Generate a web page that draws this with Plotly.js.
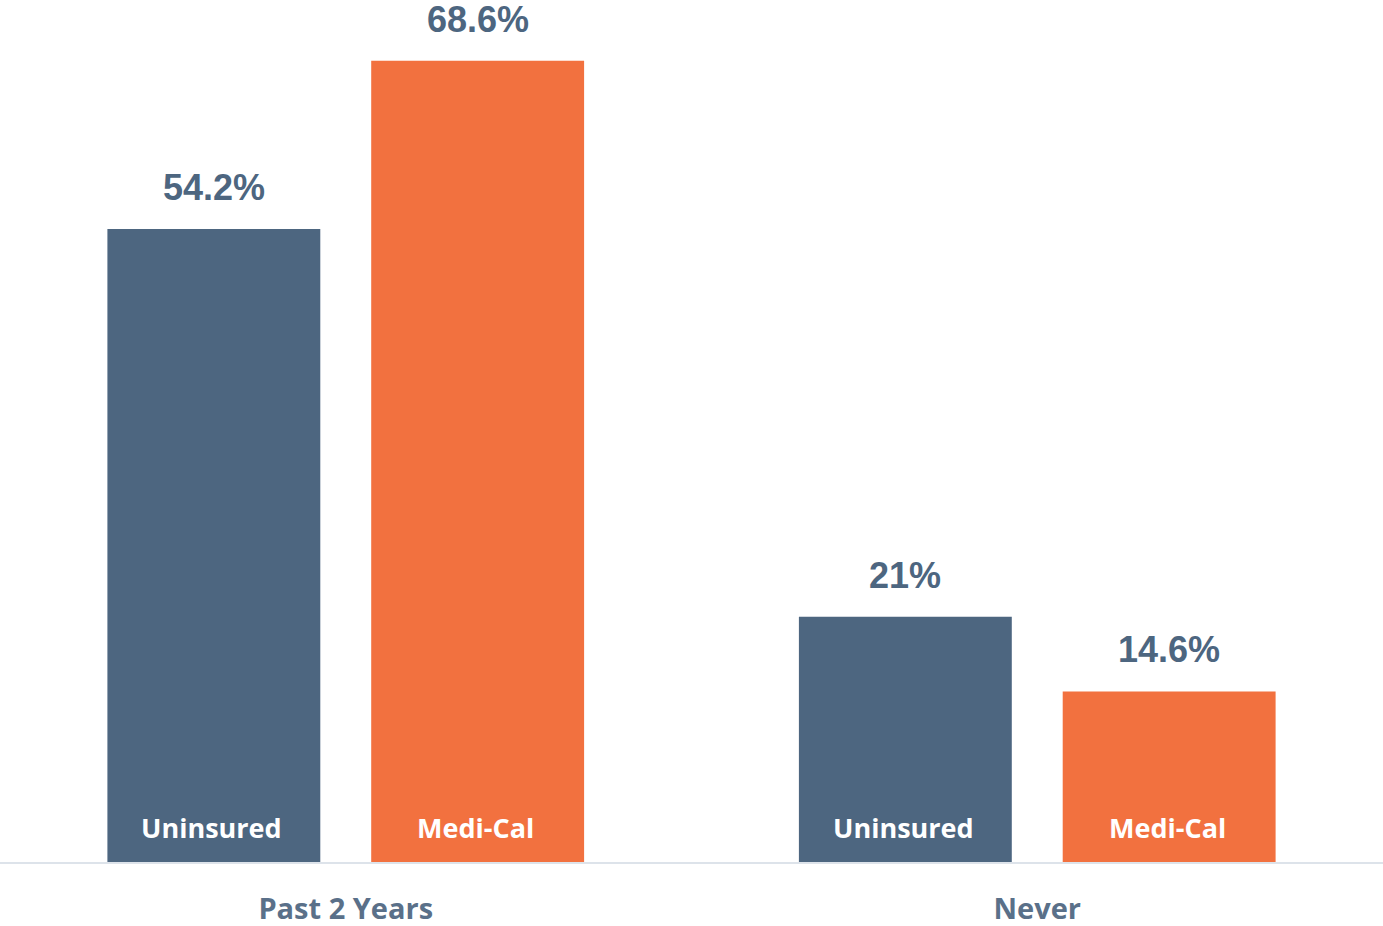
<!DOCTYPE html>
<html>
<head>
<meta charset="utf-8">
<script src="https://cdn.plot.ly/plotly-3.0.1.min.js"></script>
<style>
html,body{margin:0;padding:0;background:#fff;}
#chart{width:1383px;height:926px;}
</style>
</head>
<body>
<div id="chart"></div>
<script>
const categories = ["Past 2 Years", "Never"];
const seriesNames = ["Uninsured", "Medi-Cal"];
const uninsuredValues = [54.2, 21];
const mediCalValues = [68.6, 14.6];
const valueLabels = [["54.2%", "21%"], ["68.6%", "14.6%"]];
const colors = ["#4d6680", "#f2713f"];

const allValues = [uninsuredValues, mediCalValues];

const traces = allValues.map((vals, i) => ({
  type: "bar",
  name: seriesNames[i],
  x: categories,
  y: vals,
  offsetgroup: String(i),
  marker: {color: colors[i], line: {width: 0}},
  hoverinfo: "skip"
}));

const shifts = [-132, 132];
const annotations = [];
allValues.forEach((vals, i) => {
  vals.forEach((v, j) => {
    annotations.push({
      x: categories[j], y: v, xref: "x", yref: "y",
      xshift: shifts[i], yshift: 19,
      yanchor: "bottom", xanchor: "center",
      text: valueLabels[i][j], showarrow: false,
      font: {family: "Liberation Sans, Arial, sans-serif", size: 36, color: "#4d6680", weight: 700}
    });
    annotations.push({
      x: categories[j], y: 0, xref: "x", yref: "y",
      xshift: shifts[i] - 2, yshift: 14,
      yanchor: "bottom", xanchor: "center",
      text: seriesNames[i], showarrow: false,
      font: {family: "Open Sans, sans-serif", size: 27, color: "#ffffff", weight: 700}
    });
  });
});

const layout = {
  width: 1383, height: 926,
  margin: {l: 0, r: 0, t: 0, b: 64, pad: 0},
  paper_bgcolor: "#ffffff", plot_bgcolor: "#ffffff",
  barmode: "group",
  bargap: 0.237,
  bargroupgap: 0.193,
  showlegend: false,
  xaxis: {
    type: "category",
    range: [-0.5, 1.5],
    showline: true, linecolor: "#dde3ea", linewidth: 2,
    ticks: "", showgrid: false, zeroline: false,
    ticklabelstandoff: 20,
    tickfont: {family: "Open Sans, sans-serif", size: 29, color: "#5a7089", weight: 700}
  },
  yaxis: {
    range: [0, 73.8],
    visible: false, showgrid: false, zeroline: false
  },
  annotations: annotations
};

Plotly.newPlot("chart", traces, layout, {displayModeBar: false, staticPlot: true});
</script>
</body>
</html>
